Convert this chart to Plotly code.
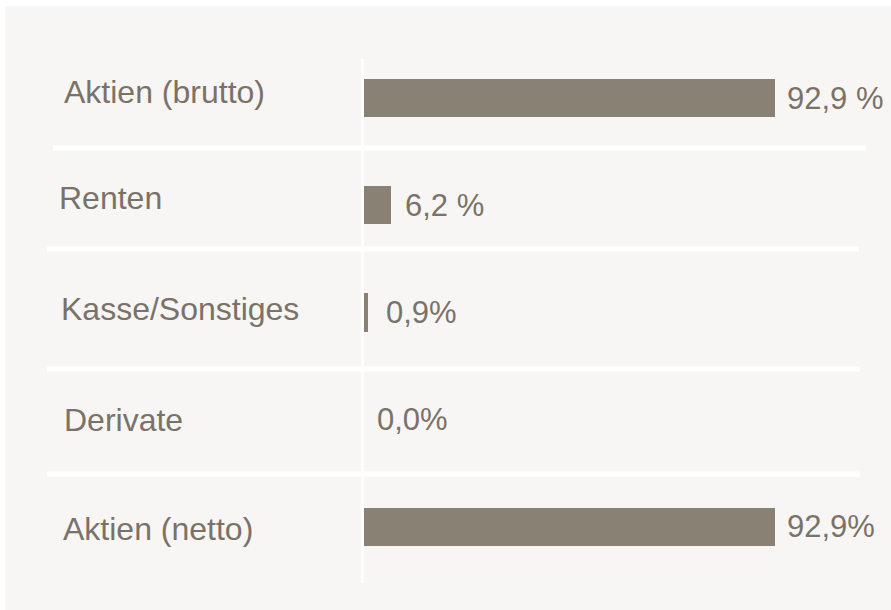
"""Horizontal bar chart: portfolio structure (Aktien, Renten, Kasse, Derivate)."""

import plotly.graph_objects as go

# data
categories = ["Aktien (brutto)", "Renten", "Kasse/Sonstiges", "Derivate", "Aktien (netto)"]
values = [92.9, 6.2, 0.9, 0.0, 92.9]
value_labels = ["92,9 %", "6,2 %", "0,9%", "0,0%", "92,9%"]

W, H = 891, 610
BAR_COLOR = "#8a8175"
TEXT_COLOR = "#7a7268"
PANEL = "#f7f6f4"
FONT = "Liberation Sans, Arial, sans-serif"

# pixel layout of the axes (margins are zero, so paper == figure)
x0_px, px_per_pct = 364, 4.424
y0_px, px_per_row = 98.3, 107.1

# per-label offsets (pixels)
cat_x_px = [62, 57, 59, 62, 61]
cat_yshift = [6, 7, 4, 0, -2]
val_xshift = [10, 12, 16, 11, 10]

fig = go.Figure()

fig.add_trace(
    go.Bar(
        x=values,
        y=list(range(len(categories))),
        orientation="h",
        width=0.355,
        marker=dict(color=BAR_COLOR, line=dict(width=0)),
        hoverinfo="skip",
        showlegend=False,
    )
)

annotations = []
for i, (cat, v, lab) in enumerate(zip(categories, values, value_labels)):
    annotations.append(
        dict(
            text=cat,
            x=cat_x_px[i] / W,
            xref="paper",
            y=i,
            yref="y",
            xanchor="left",
            yanchor="middle",
            yshift=cat_yshift[i],
            showarrow=False,
            font=dict(family=FONT, size=32, color=TEXT_COLOR),
        )
    )
    annotations.append(
        dict(
            text=lab,
            x=v,
            xref="x",
            y=i,
            yref="y",
            xanchor="left",
            yanchor="middle",
            xshift=val_xshift[i],
            showarrow=False,
            font=dict(family=FONT, size=31, color=TEXT_COLOR),
        )
    )

shapes = [
    # light panel
    dict(type="rect", xref="paper", yref="paper", x0=5.5 / W, x1=1, y0=0, y1=1 - 6 / H,
         fillcolor=PANEL, line=dict(width=0), layer="below"),
    # vertical white divider
    dict(type="line", xref="paper", yref="paper", x0=362.5 / W, x1=362.5 / W,
         y0=1 - 59 / H, y1=1 - 583 / H, line=dict(color="white", width=3), layer="below"),
]
for xa, xb, yp in [(53, 866, 148), (47, 859, 249), (47, 860, 369), (47, 860, 474)]:
    shapes.append(
        dict(type="line", xref="paper", yref="paper", x0=xa / W, x1=xb / W,
             y0=1 - yp / H, y1=1 - yp / H, line=dict(color="white", width=5), layer="below")
    )

fig.update_layout(
    width=W,
    height=H,
    margin=dict(l=0, r=0, t=0, b=0),
    paper_bgcolor="white",
    plot_bgcolor="rgba(0,0,0,0)",
    shapes=shapes,
    annotations=annotations,
    bargap=0,
)
fig.update_xaxes(
    range=[-x0_px / px_per_pct, (W - x0_px) / px_per_pct],
    visible=False,
    fixedrange=True,
)
fig.update_yaxes(
    range=[(H - y0_px) / px_per_row, -y0_px / px_per_row],
    visible=False,
    fixedrange=True,
)

fig.write_html(
    "out.html",
    config={"displayModeBar": False},
    post_script="document.body.style.margin='0px';document.body.style.overflow='hidden';",
)
